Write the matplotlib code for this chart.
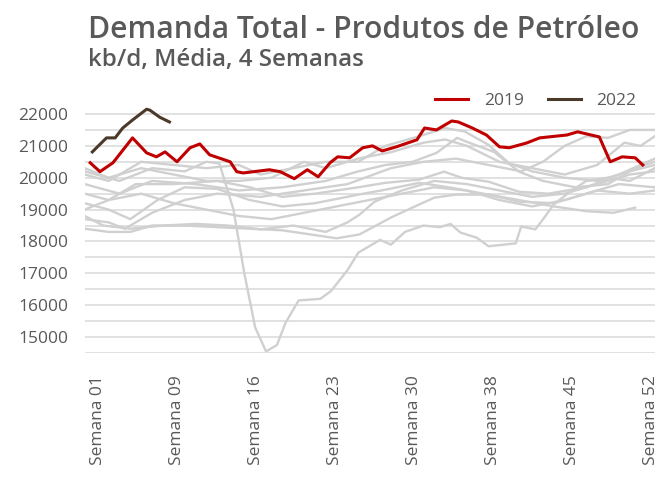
import matplotlib
matplotlib.use("Agg")
import matplotlib.pyplot as plt
from matplotlib.ticker import MultipleLocator

plt.rcParams['font.family'] = ['Open Sans', 'DejaVu Sans']

# semanas (posição no eixo) e valores, kb/d
semanas_2019 = [0.3, 1.2, 2.4, 4.2, 5.5, 6.4, 7.2, 8.3, 9.5, 10.4, 11.3, 13.2, 13.8, 14.4,
                16.8, 17.8, 19.1, 20.3, 21.3, 22.4, 23.1, 24.2, 25.4, 26.3, 27.2, 28.5,
                30.4, 31.1, 32.2, 33.6, 34.2, 35.5, 36.8, 38.0, 38.9, 40.5, 41.7, 44.2,
                45.2, 47.2, 48.2, 49.3, 50.5, 51.2]
valores_2019 = [20470, 20190, 20470, 21250, 20780, 20656, 20810, 20500, 20940, 21060, 20720,
                20500, 20190, 20150, 20250, 20190, 19970, 20250, 20030, 20470, 20656, 20625,
                20940, 21000, 20840, 20970, 21190, 21560, 21500, 21780, 21750, 21560, 21340,
                20970, 20940, 21090, 21250, 21340, 21440, 21280, 20500, 20656, 20625, 20400]

semanas_2022 = [0.5, 1.8, 2.6, 3.3, 4.2, 5.5, 5.8, 6.7, 7.6]
valores_2022 = [20810, 21250, 21250, 21560, 21810, 22150, 22120, 21900, 21750]

# outros anos (cinza)
semanas_outros = [
    [-0.2, 3, 6, 9, 11, 12.2, 13.5, 14.5, 15.5, 16.5, 17.5, 18.3, 19.5, 21.5, 22.5, 24, 25,
     27, 28, 29.3, 31, 32.5, 33.5, 34.4, 35.9, 37, 39.5, 40, 41.3, 42, 43, 44.5, 46, 48, 50, 52.3],
    [-0.2, 2, 5, 8, 11, 14, 16, 19, 22, 25, 27.5, 30.6, 33, 34.8, 37, 38.9, 41, 44, 47, 50, 52.3],
    [-0.2, 3, 6, 10, 14, 18, 22, 25, 27.5, 30, 32.2, 34.1, 35, 37.5, 39.8, 42, 45, 48, 50.5, 52.3],
    [-0.2, 2, 4.5, 8, 12, 15, 18, 21, 25, 27.5, 30.6, 32.9, 34.5, 37, 39.8, 42.5, 46, 49, 52.3],
    [-0.2, 2, 4, 6.5, 9, 12, 15, 18, 21, 25, 27.5, 30.6, 33.5, 37, 39.8, 43, 46, 49, 52.3],
    [-0.2, 1.5, 4, 7, 10, 13, 16, 19, 22, 24, 25.1, 26.5, 29, 32, 35, 38, 41, 44, 47, 50, 52.3],
    [-0.2, 2, 4, 6, 9, 12, 15, 18, 21, 23, 25.1, 28, 30.6, 32, 34, 37, 39.8, 43, 46, 48.5, 50.5],
    [-0.2, 2, 3.5, 6, 9, 12, 16, 20, 24, 28, 31, 34, 37, 40, 42, 44, 46, 48, 50, 52.3],
    [-0.2, 2, 5, 8, 11, 14, 17, 20, 22, 25, 28, 31, 33, 35, 38, 41, 44, 47, 49.5, 51, 52.3],
    [-0.2, 2, 5, 8, 11, 14, 17, 20, 23, 26, 29, 32, 35, 38, 41, 44, 47, 50, 52.3],
]
valores_outros = [
    [20200, 19900, 20300, 20200, 20500, 20450, 19000, 17000, 15300, 14550, 14750, 15450, 16150,
     16200, 16450, 17100, 17650, 18050, 17900, 18300, 18500, 18450, 18550, 18280, 18120, 17850,
     17940, 18470, 18380, 18690, 19160, 19560, 19900, 20000, 19900, 20300],
    [20100, 19900, 20500, 20400, 20300, 20400, 20100, 20300, 20500, 20500, 21000, 21300, 21560,
     21450, 21030, 20450, 20200, 20000, 19900, 20200, 20400],
    [19800, 19500, 19900, 19800, 19600, 19700, 19900, 20200, 20400, 20500, 20780, 21250, 21125,
     20810, 20190, 19900, 19700, 19800, 20300, 20500],
    [19500, 19300, 19800, 19800, 19900, 19700, 19400, 19500, 19700, 19840, 19940, 20190, 20000,
     19875, 19560, 19500, 19700, 20100, 20600],
    [19200, 19000, 18700, 19300, 19700, 19650, 19300, 19100, 19200, 19470, 19625, 19840, 19690,
     19470, 19250, 19200, 19500, 19800, 19700],
    [18800, 18500, 18400, 18500, 18550, 18500, 18380, 18500, 18300, 18600, 18840, 19250, 19600,
     19900, 19800, 19600, 19400, 19500, 19800, 20100, 20200],
    [18400, 18300, 18300, 18500, 18500, 18450, 18400, 18350, 18200, 18100, 18220, 18750, 19160,
     19375, 19470, 19470, 19300, 19100, 18950, 18900, 19060],
    [18700, 18600, 18400, 18900, 19300, 19500, 19400, 19600, 19800, 20300, 20500, 20600, 20400,
     20200, 20500, 21000, 21300, 21250, 21500, 21500],
    [20300, 20000, 20300, 20100, 19900, 19900, 20000, 20500, 20300, 20600, 20800, 21100, 21200,
     21000, 20500, 20300, 20100, 20400, 21100, 21000, 21300],
    [19000, 19300, 19500, 19200, 19000, 18800, 18700, 18900, 19100, 19300, 19500, 19700, 19600,
     19300, 19100, 19300, 19600, 19500, 19600],
]

tick_pos = [1 + k * 51 / 7 for k in range(8)]
tick_labels = ['Semana 01', 'Semana 09', 'Semana 16', 'Semana 23',
               'Semana 30', 'Semana 38', 'Semana 45', 'Semana 52']

cinza_texto = '#595959'

fig = plt.figure(figsize=(6.62, 4.79), dpi=100)
ax = fig.add_axes([0.128, 0.263, 0.861, 0.519])

for s, v in zip(semanas_outros, valores_outros):
    ax.plot(s, v, color='#d0d0d0', lw=1.7, zorder=2)

ax.plot(semanas_2019, valores_2019, color='#c00000', lw=2.2, label='2019', zorder=4)
ax.plot(semanas_2022, valores_2022, color='#4b3a2a', lw=2.2, label='2022', zorder=5)

ax.set_xlim(-0.2, 52.3)
ax.set_ylim(14500, 22300)
ax.yaxis.set_minor_locator(MultipleLocator(500))
ax.set_yticks(range(15000, 23000, 1000))
ax.grid(True, which='both', axis='y', color='#d9d9d9', lw=1.1, zorder=0)
ax.set_axisbelow(True)
for sp in ax.spines.values():
    sp.set_visible(False)
ax.set_xticks(tick_pos)
ax.set_xticklabels(tick_labels, rotation=90)
ax.tick_params(axis='both', which='both', length=0, labelsize=12.5, colors=cinza_texto)
ax.tick_params(axis='y', pad=12)
ax.tick_params(axis='x', pad=16)

fig.text(0.133, 0.921, 'Demanda Total - Produtos de Petróleo', fontsize=21.6,
         fontweight='semibold', color=cinza_texto, va='baseline')
fig.text(0.133, 0.862, 'kb/d, Média, 4 Semanas', fontsize=17.4,
         fontweight='semibold', color=cinza_texto, va='baseline')

fig.legend(loc='upper right', bbox_to_anchor=(0.985, 0.838), ncol=2, frameon=False,
           fontsize=12.5, handlelength=1.9, columnspacing=1.4, handletextpad=0.9,
           labelcolor=cinza_texto)

fig.savefig('out.png', dpi=100)
